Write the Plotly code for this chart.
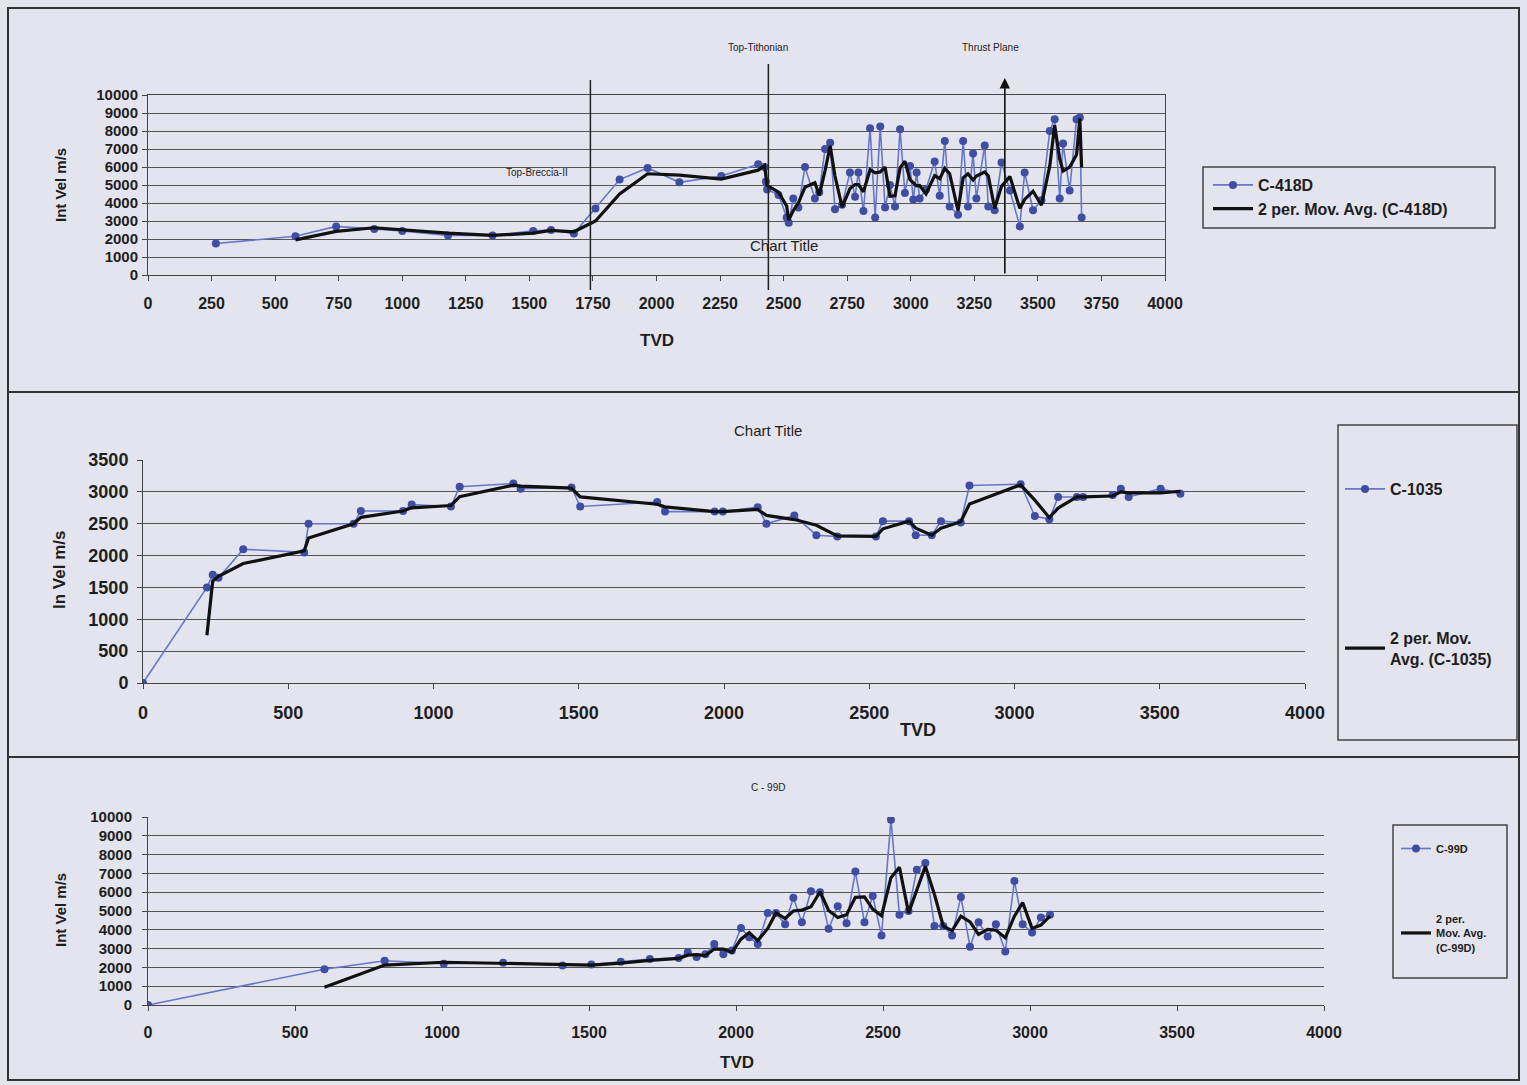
import plotly.graph_objects as go

W, H = 1527, 1085
def fx(px): return px / W
def fy(py): return 1 - py / H

# ---------------- DATA ----------------
c418_tvd = [267, 580, 740, 890, 1000, 1180, 1355, 1515, 1585, 1675, 1760, 1855, 1965, 2090, 2255,
            2400, 2425, 2430, 2435, 2480, 2512, 2520, 2538, 2558, 2584, 2623, 2640, 2663, 2683, 2702,
            2730, 2761, 2781, 2794, 2814, 2840, 2860, 2880, 2899, 2918, 2938, 2958, 2977, 2997, 3010,
            3023, 3035, 3060, 3094, 3114, 3134, 3153, 3186, 3206, 3225, 3245, 3258, 3291, 3305, 3330,
            3357, 3390, 3429, 3448, 3481, 3514, 3547, 3566, 3586, 3599, 3625, 3652, 3665, 3672]
c418_vel = [1750, 2150, 2700, 2550, 2450, 2200, 2200, 2450, 2500, 2300, 3700, 5300, 5950, 5150, 5500,
            6150, 6000, 5200, 4750, 4450, 3200, 2900, 4250, 3750, 6000, 4250, 4600, 7000, 7350, 3650,
            3900, 5700, 4350, 5700, 3550, 8150, 3200, 8250, 3750, 5000, 3800, 8100, 4550, 6050, 4200,
            5700, 4250, 4750, 6300, 4400, 7450, 3800, 3350, 7450, 3800, 6750, 4250, 7200, 3800, 3600,
            6250, 4700, 2700, 5700, 3600, 4150, 8000, 8650, 4250, 7300, 4700, 8650, 8750, 3200]

c1035_tvd = [0, 220, 240, 260, 345, 555, 570, 725, 750, 895, 925, 1060, 1090, 1275, 1300, 1475, 1505,
             1770, 1797, 1968, 1996, 2116, 2146, 2242, 2318, 2390, 2523, 2547, 2637, 2660, 2715, 2747,
             2815, 2845, 3021, 3070, 3120, 3150, 3215, 3236, 3338, 3366, 3393, 3503, 3571]
c1035_vel = [0, 1500, 1700, 1650, 2100, 2050, 2500, 2500, 2700, 2700, 2800, 2770, 3080, 3130, 3050,
             3070, 2770, 2840, 2690, 2690, 2690, 2760, 2500, 2630, 2320, 2300, 2300, 2540, 2540, 2320,
             2320, 2540, 2520, 3100, 3120, 2620, 2570, 2920, 2920, 2920, 2950, 3050, 2920, 3050, 2970]

c99_tvd = [0, 600, 805, 1006, 1208, 1410, 1508, 1608, 1707, 1805, 1836, 1866, 1896, 1926, 1957, 1986,
           2017, 2045, 2074, 2108, 2136, 2167, 2195, 2224, 2255, 2286, 2315, 2346, 2376, 2406, 2437,
           2465, 2495, 2527, 2556, 2587, 2615, 2644, 2675, 2705, 2735, 2765, 2796, 2825, 2856, 2884,
           2916, 2947, 2975, 3007, 3037, 3068]
c99_vel = [0, 1900, 2350, 2200, 2250, 2100, 2150, 2300, 2450, 2500, 2800, 2550, 2700, 3250, 2700, 2900,
           4100, 3600, 3250, 4900, 4900, 4300, 5700, 4400, 6050, 6000, 4050, 5250, 4350, 7100, 4400,
           5800, 3700, 9850, 4800, 5000, 7200, 7550, 4200, 4200, 3700, 5750, 3100, 4400, 3650, 4300,
           2850, 6600, 4300, 3850, 4650, 4800]

x_ticks_top = list(range(0, 4001, 250))
x_ticks_low = list(range(0, 4001, 500))

# 2-period moving average trendline (as Excel computes it)
def mov_avg(x, y):
    return x[1:], [(y[i] + y[i - 1]) / 2 for i in range(1, len(y))]

FONT = "Arial, Liberation Sans, sans-serif"
BG = "#e4e4ee"
GRID = "#555555"
BLUE_LINE = "#6577c9"
BLUE_MK = "#3f4ea2"
TXT = "#1e1e1e"

fig = go.Figure()

def add_pair(x, y, name, xa, ya, legend, msize, ma_name):
    fig.add_trace(go.Scatter(x=x, y=y, mode="lines+markers", name=name,
                             line=dict(color=BLUE_LINE, width=1.6),
                             marker=dict(color=BLUE_MK, size=msize, line=dict(color=BLUE_MK, width=0)),
                             xaxis=xa, yaxis=ya, legend=legend, legendgroup=legend + "a"))
    mx, my = mov_avg(x, y)
    fig.add_trace(go.Scatter(x=mx, y=my, mode="lines", name=ma_name,
                             line=dict(color="#111111", width=3.2),
                             xaxis=xa, yaxis=ya, legend=legend, legendgroup=legend + "b"))

add_pair(c418_tvd, c418_vel, "C-418D", "x", "y", "legend", 8, "2 per. Mov. Avg. (C-418D)")
add_pair(c1035_tvd, c1035_vel, "C-1035", "x2", "y2", "legend2", 8, "2 per. Mov.<br>Avg. (C-1035)")
add_pair(c99_tvd, c99_vel, "C-99D", "x3", "y3", "legend3", 8, "2 per.<br>Mov. Avg.<br>(C-99D)")

ax_common = dict(showgrid=False, zeroline=False, showline=True, linecolor="#444", linewidth=1,
                 ticks="outside", ticklen=5, tickcolor="#444", color=TXT, tickformat="d",
                 automargin=False)
ay_common = dict(showgrid=True, gridcolor=GRID, gridwidth=1, zeroline=False, showline=True,
                 linecolor="#444", linewidth=1, ticks="outside", ticklen=5, tickcolor="#444", color=TXT,
                 tickformat="d", automargin=False)

fig.update_layout(
    width=W, height=H, autosize=False,
    margin=dict(l=0, r=0, t=0, b=0, pad=0, autoexpand=False),
    paper_bgcolor=BG, plot_bgcolor=BG, font=dict(family=FONT, color=TXT),
    xaxis=dict(ax_common, domain=[fx(148), fx(1165)], range=[0, 4000], tickvals=x_ticks_top,
               anchor="y", mirror=True, tickfont=dict(size=16, weight="bold"), ticklabelstandoff=9),
    yaxis=dict(ay_common, domain=[fy(275), fy(95)], range=[0, 10000], dtick=1000, anchor="x",
               mirror=True, tickfont=dict(size=15, weight="bold"), ticklabelstandoff=1),
    xaxis2=dict(ax_common, domain=[fx(143), fx(1305)], range=[0, 4000], tickvals=x_ticks_low,
                anchor="y2", tickfont=dict(size=18, weight="bold"), ticklabelstandoff=8),
    yaxis2=dict(ay_common, domain=[fy(683), fy(460)], range=[0, 3500], dtick=500, anchor="x2",
                tickfont=dict(size=18, weight="bold"), ticklabelstandoff=5),
    xaxis3=dict(ax_common, domain=[fx(148), fx(1324)], range=[0, 4000], tickvals=x_ticks_low,
                anchor="y3", tickfont=dict(size=16, weight="bold"), ticklabelstandoff=8),
    yaxis3=dict(ay_common, domain=[fy(1005), fy(817)], range=[0, 10000], dtick=1000, anchor="x3",
                tickfont=dict(size=15, weight="bold"), ticklabelstandoff=7),
    legend=dict(x=fx(1208), y=fy(168), xanchor="left", yanchor="top", bgcolor="rgba(0,0,0,0)",
                font=dict(size=16, weight="bold"), tracegroupgap=0, itemwidth=40),
    legend2=dict(x=fx(1340), y=fy(472), xanchor="left", yanchor="top", bgcolor="rgba(0,0,0,0)",
                 font=dict(size=16, weight="bold"), tracegroupgap=125, itemwidth=40),
    legend3=dict(x=fx(1396), y=fy(834), xanchor="left", yanchor="top", bgcolor="rgba(0,0,0,0)",
                 font=dict(size=11, weight="bold"), tracegroupgap=52, itemwidth=30),
    showlegend=True,
)

shapes = []
# chart frames
for (y0, y1) in [(8, 392), (392, 757), (757, 1080)]:
    shapes.append(dict(type="rect", xref="paper", yref="paper", x0=fx(8), x1=fx(1519),
                       y0=fy(y1), y1=fy(y0), line=dict(color="#333", width=2)))
# legend boxes
for (x0, y0, x1, y1) in [(1203, 167, 1495, 228), (1338, 425, 1517, 740), (1393, 825, 1507, 978)]:
    shapes.append(dict(type="rect", xref="paper", yref="paper", x0=fx(x0), x1=fx(x1),
                       y0=fy(y1), y1=fy(y0), line=dict(color="#444", width=1.5)))
# formation tops
shapes.append(dict(type="line", xref="x", yref="paper", x0=1740, x1=1740, y0=fy(290), y1=fy(80),
                   line=dict(color="#222", width=1.5)))
shapes.append(dict(type="line", xref="x", yref="paper", x0=2440, x1=2440, y0=fy(290), y1=fy(64),
                   line=dict(color="#222", width=1.5)))
fig.update_layout(shapes=shapes)

ann = [
    dict(text="Top-Tithonian", x=fx(758), y=fy(48), font=dict(size=10)),
    dict(text="Thrust Plane", x=fx(990), y=fy(48), font=dict(size=10)),
    dict(text="Top-Breccia-II", x=fx(537), y=fy(172), font=dict(size=10)),
    dict(text="Chart Title", x=fx(784), y=fy(245), font=dict(size=15)),
    dict(text="<b>TVD</b>", x=fx(657), y=fy(340), font=dict(size=17)),
    dict(text="<b>Int Vel m/s</b>", x=fx(60), y=fy(185), font=dict(size=15), textangle=-90),
    dict(text="Chart Title", x=fx(768), y=fy(430), font=dict(size=15)),
    dict(text="<b>TVD</b>", x=fx(918), y=fy(730), font=dict(size=18)),
    dict(text="<b>In Vel m/s</b>", x=fx(60), y=fy(570), font=dict(size=17), textangle=-90),
    dict(text="C - 99D", x=fx(768), y=fy(787), font=dict(size=10)),
    dict(text="<b>TVD</b>", x=fx(737), y=fy(1062), font=dict(size=17)),
    dict(text="<b>Int Vel m/s</b>", x=fx(60), y=fy(910), font=dict(size=15), textangle=-90),
]
for a in ann:
    a.update(xref="paper", yref="paper", showarrow=False, xanchor="center", yanchor="middle")
    fig.add_annotation(**a)

# thrust plane arrow
fig.add_annotation(x=3370, y=fy(78), xref="x", yref="paper", ax=0, ay=197, text="",
                   showarrow=True, arrowhead=2, arrowsize=1.3, arrowwidth=1.6, arrowcolor="#111")

post = ("document.documentElement.style.margin='0';document.body.style.margin='0';"
        "document.body.style.padding='0';document.body.style.overflow='hidden';"
        "document.documentElement.style.overflow='hidden';")
fig.write_html("out.html", config={"displayModeBar": False}, post_script=post)
